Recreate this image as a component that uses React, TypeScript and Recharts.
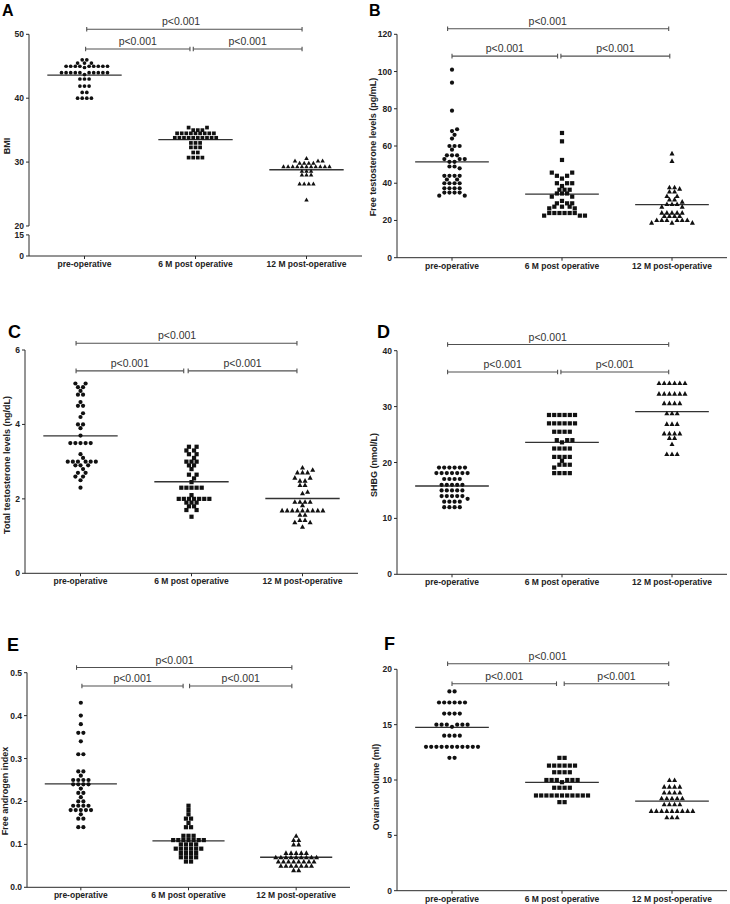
import React from 'react'
import { ScatterChart, Scatter, XAxis, YAxis, ReferenceLine, ReferenceDot } from 'recharts'

const GROUPS = ['pre-operative', '6 M post operative', '12 M post-operative']
const P_TEXT = 'p<0.001'

// A - BMI
const BMI_PRE = [46, 46, 45.5, 45.5, 45.5, 45, 45, 45, 45, 45, 45, 45, 45, 45, 44.8, 44, 44, 44, 44, 44, 44, 44, 44, 44, 44, 43.7, 43, 43, 43, 41.9, 41.9, 41.9, 40.9, 40.9, 40, 40, 40, 40]
const BMI_6M = [35.4, 35.4, 35, 35, 35, 34.5, 34.5, 34.5, 34.5, 34.5, 34.5, 34.5, 34.5, 34.5, 33.8, 33.8, 33.8, 33.8, 33.8, 33.8, 33.8, 33.8, 33.8, 33.8, 33, 33, 33, 32.3, 32.3, 32.3, 31.5, 31.5, 30.7, 30.7, 30.7, 30.7]
const BMI_12M = [30.6, 30.2, 30.2, 30.2, 29.85, 29.85, 29.85, 29.85, 29.3, 29.3, 29.3, 29.3, 29.3, 29.3, 29.3, 29.3, 29.3, 29.3, 29.3, 28.6, 28.6, 28.6, 28, 28, 28, 26.6, 26.6, 26.6, 26.6, 24.1]
const BMI_MEAN = [43.6, 33.5, 28.8]
const BMI_TICKS = [0, 15, 20, 30, 40, 50]

// B - free testosterone
const FT_PRE = [101, 94, 79, 69, 68, 66, 64, 60, 60, 60, 58, 55, 55, 55, 53, 53, 53, 51.5, 51.5, 49, 49, 48, 44, 44, 44, 44, 42, 42, 40, 40, 40, 40, 37.3, 37.3, 37.3, 37.3, 35, 35, 35, 35, 33.3, 33.3]
const FT_6M = [67, 62.5, 52.5, 45.7, 45.7, 44, 44, 42.5, 40, 40, 40, 38.5, 36.5, 36.5, 36.5, 34.5, 34.5, 34.5, 32.8, 32.8, 30.5, 29.2, 29.2, 29.2, 27.4, 27.4, 27.4, 26.5, 26.5, 24, 24, 24, 24, 24, 24, 22.6, 22.6, 22.6]
const FT_12M = [56, 52, 37.8, 37.8, 37.1, 35.5, 35.5, 33.1, 33.1, 31.3, 31.3, 30.1, 28.8, 28.8, 28.8, 27.4, 27.4, 24.2, 24.2, 24.2, 24.2, 24.2, 22.4, 22.4, 22.4, 22.4, 20.2, 20.2, 20.2, 20.2, 20.2, 20.2, 18.8, 18.8, 18.8]
const FT_MEAN = [51.5, 34.2, 28.5]
const FT_TICKS = [0, 20, 40, 60, 80, 100, 120]

// C - total testosterone
const TT_PRE = [5.1, 5.1, 5.0, 5.0, 4.9, 4.8, 4.8, 4.6, 4.5, 4.5, 4.3, 4.2, 4.0, 4.0, 3.9, 3.7, 3.5, 3.5, 3.5, 3.5, 3.5, 3.2, 3.1, 3.0, 3.0, 3.0, 3.0, 3.0, 3.0, 2.9, 2.9, 2.9, 2.8, 2.7, 2.7, 2.6, 2.6, 2.5, 2.3]
const TT_6M = [3.4, 3.4, 3.3, 3.3, 3.2, 3.2, 3.1, 3.0, 3.0, 3.0, 2.9, 2.9, 2.8, 2.65, 2.65, 2.55, 2.45, 2.3, 2.3, 2.3, 2.3, 2.3, 2.1, 2.0, 2.0, 2.0, 2.0, 2.0, 2.0, 2.0, 1.9, 1.9, 1.9, 1.8, 1.8, 1.7, 1.7, 1.52]
const TT_12M = [2.84, 2.78, 2.71, 2.71, 2.71, 2.57, 2.57, 2.49, 2.49, 2.37, 2.37, 2.19, 2.15, 1.92, 1.92, 1.92, 1.92, 1.83, 1.69, 1.69, 1.69, 1.69, 1.69, 1.69, 1.69, 1.69, 1.69, 1.57, 1.57, 1.43, 1.43, 1.37, 1.37, 1.25]
const TT_MEAN = [3.69, 2.46, 2.01]
const TT_TICKS = [0, 2, 4, 6]

// D - SHBG
const SHBG_PRE = [19.1, 19.1, 19.1, 19.1, 19.1, 19.1, 18.1, 18.1, 18.1, 18.1, 18.1, 18.1, 18.1, 17.05, 17.05, 17.05, 17.05, 16, 16, 16, 16, 16, 15, 15, 15, 15, 15, 14, 14, 14, 14, 14, 13.5, 13, 13, 13, 13, 12, 12, 12, 12]
const SHBG_6M = [28.5, 28.5, 28.5, 28.5, 28.5, 28.5, 27, 27, 27, 27, 27, 27, 25.5, 25.5, 25.5, 25.5, 24, 24, 24, 23.6, 22.5, 22.5, 22.5, 22.5, 21, 21, 21, 21, 20.3, 19.6, 19.6, 19.6, 19.1, 18.1, 18.1, 18.1, 18.1]
const SHBG_12M = [34.2, 34.2, 34.2, 34.2, 34.2, 34.2, 32.3, 32.3, 32.3, 32.3, 32.3, 32.3, 30.6, 30.6, 30.6, 30.6, 28.8, 28.8, 28.8, 26.9, 26.9, 26.9, 25.2, 25.2, 25.2, 25.2, 24.4, 24.4, 23.3, 21.5, 21.5, 21.5]
const SHBG_MEAN = [15.8, 23.6, 29.1]
const SHBG_TICKS = [0, 10, 20, 30, 40]

// E - free androgen index
const FAI_PRE = [0.43, 0.4, 0.38, 0.36, 0.36, 0.34, 0.31, 0.31, 0.27, 0.27, 0.26, 0.25, 0.25, 0.25, 0.25, 0.24, 0.24, 0.24, 0.24, 0.23, 0.22, 0.22, 0.21, 0.2, 0.2, 0.19, 0.19, 0.19, 0.19, 0.18, 0.18, 0.18, 0.18, 0.18, 0.17, 0.16, 0.16, 0.14, 0.14]
const FAI_6M = [0.19, 0.18, 0.17, 0.16, 0.16, 0.15, 0.14, 0.14, 0.12, 0.12, 0.12, 0.11, 0.11, 0.11, 0.11, 0.11, 0.11, 0.11, 0.1, 0.1, 0.1, 0.1, 0.09, 0.09, 0.09, 0.09, 0.09, 0.09, 0.08, 0.08, 0.08, 0.08, 0.07, 0.07, 0.07, 0.07, 0.06, 0.06]
const FAI_12M = [0.12, 0.11, 0.11, 0.1, 0.1, 0.08, 0.08, 0.08, 0.08, 0.08, 0.07, 0.07, 0.07, 0.07, 0.07, 0.07, 0.07, 0.07, 0.07, 0.06, 0.06, 0.06, 0.06, 0.06, 0.06, 0.06, 0.06, 0.05, 0.05, 0.05, 0.05, 0.05, 0.05, 0.05, 0.04, 0.04]
const FAI_MEAN = [0.241, 0.108, 0.07]
const FAI_TICKS = [0, 0.1, 0.2, 0.3, 0.4, 0.5]

// F - ovarian volume
const OV_PRE = [18, 18, 17, 17, 17, 17, 17, 17, 16, 16, 16, 16, 15, 15, 15, 15, 15, 15, 14.8, 14, 14, 14, 14, 13, 13, 13, 13, 13, 13, 13, 13, 13, 13, 13, 12, 12]
const OV_6M = [12, 12, 11.3, 11.3, 11.3, 11.3, 11.3, 11.3, 10.7, 10.7, 10.7, 10.7, 10, 10, 10, 10, 10, 10, 9.8, 9.3, 9.3, 9.3, 9.3, 8.6, 8.6, 8.6, 8.6, 8.6, 8.6, 8.6, 8.6, 8.6, 8.6, 8.6, 8, 8]
const OV_12M = [10, 10, 9.4, 9.4, 9.4, 9.4, 8.86, 8.86, 8.86, 8.86, 8.34, 8.34, 8.34, 8.34, 8.34, 7.8, 7.8, 7.8, 7.8, 7.2, 7.2, 7.2, 7.2, 7.2, 7.2, 7.2, 7.2, 7.2, 6.63, 6.63, 6.63]
const OV_MEAN = [14.76, 9.79, 8.1]
const OV_TICKS = [0, 5, 10, 15, 20]

const INK = '#111'
const AXIS = '#2a2a2a'
const BRACKET = '#505050'
const FONT = '"Liberation Sans", Arial, Helvetica, sans-serif'
const TICK = { fontSize: 8.5, fontWeight: 700, fill: '#222' }
const XH = 10
const YW = 24
const HALF_MEAN = 0.335
const TOP_LABEL_X = 1.87

// BMI axis is broken between 15 and 20
const LOW_SPAN = 3.3
const GAP = 1.4
const bmiScale = (v: number) => (v >= 20 ? LOW_SPAN + GAP + v - 20 : (v * LOW_SPAN) / 15)

// simple GraphPad-like dot placement: nearest free slot to the centre line
function swarm(vals: number[], pxY: number, centre: number, pitch: number, dmin: number) {
  const idx = vals.map((_, i) => i).sort((a, b) => Math.abs(vals[a] - centre) - Math.abs(vals[b] - centre) || vals[a] - vals[b])
  const placed: [number, number][] = []
  const out = vals.map(() => 0)
  const h = pitch / 2
  for (const i of idx) {
    const y = vals[i] * pxY
    const even = vals.filter((v) => v === vals[i]).length % 2 === 0
    for (let k = 0; k < 400; k++) {
      const dx = even
        ? (Math.floor(k / 2) + 1) * h * (k % 2 === 0 ? 1 : -1)
        : Math.ceil(k / 2) * h * (k % 2 === 1 ? 1 : -1)
      if (placed.every(([px, py]) => (px - dx) ** 2 + (py - y) ** 2 >= dmin * dmin)) {
        placed.push([dx, y])
        out[i] = dx
        break
      }
    }
  }
  return out
}

const dot = (r: number) => (p: any) => <circle cx={p.cx} cy={p.cy} r={r} fill={INK} />
const square = (r: number) => (p: any) => <rect x={p.cx - r} y={p.cy - r} width={2 * r} height={2 * r} fill={INK} />
const tri = (r: number) => (p: any) => (
  <path d={`M${p.cx},${p.cy - r * 1.25}L${p.cx + r * 1.2},${p.cy + r * 0.95}L${p.cx - r * 1.2},${p.cy + r * 0.95}Z`} fill={INK} />
)

type Spec = {
  letter: string
  letterAt: [number, number, number]
  yLabel: string
  yLabelAt: [number, number]
  box: [number, number, number, number]
  plot: [number, number, number, number]
  groups: number[][]
  means: number[]
  ticks: number[]
  bracketY: [number, number]
  spans: [number, number][]
  pitch: number
  r: number
  fmt?: (v: number) => string
  tf?: (v: number) => number
  broken?: boolean
}

const PANELS: Spec[] = [
  {
    letter: 'A', letterAt: [3, 5, 16], yLabel: 'BMI', yLabelAt: [7, 146],
    box: [0, 0, 365, 300], plot: [29, 34.3, 362, 256],
    groups: [BMI_PRE, BMI_6M, BMI_12M], means: BMI_MEAN, ticks: BMI_TICKS,
    bracketY: [50.8, 47.7], spans: [[1.02, 2.96], [1.01, 1.95], [1.98, 2.96]],
    pitch: 4.6, r: 1.85, tf: bmiScale, broken: true,
  },
  {
    letter: 'B', letterAt: [370, 5, 16], yLabel: 'Free testosterone levels (pg/mL)', yLabelAt: [372.5, 147],
    box: [365, 0, 365, 300], plot: [397, 34.3, 727, 257.7],
    groups: [FT_PRE, FT_6M, FT_12M], means: FT_MEAN, ticks: FT_TICKS,
    bracketY: [123, 108.3], spans: [[0.96, 2.97], [1.0, 1.96], [1.99, 2.98]],
    pitch: 5.1, r: 2.1,
  },
  {
    letter: 'C', letterAt: [9, 325, 18], yLabel: 'Total testosterone levels (ng/dL)', yLabelAt: [7, 465],
    box: [0, 300, 365, 304], plot: [25, 350, 358, 573.3],
    groups: [TT_PRE, TT_6M, TT_12M], means: TT_MEAN, ticks: TT_TICKS,
    bracketY: [6.18, 5.44], spans: [[0.96, 2.95], [0.96, 1.93], [1.97, 2.95]],
    pitch: 5.1, r: 2.1,
  },
  {
    letter: 'D', letterAt: [378, 325, 18], yLabel: 'SHBG (nmol/L)', yLabelAt: [374, 465],
    box: [365, 300, 365, 304], plot: [397, 350.7, 727, 574.3],
    groups: [SHBG_PRE, SHBG_6M, SHBG_12M], means: SHBG_MEAN, ticks: SHBG_TICKS,
    bracketY: [41.1, 36.2], spans: [[0.96, 2.97], [0.96, 1.96], [1.99, 2.97]],
    pitch: 5.2, r: 2.1,
  },
  {
    letter: 'E', letterAt: [8, 638, 18], yLabel: 'Free androgen index', yLabelAt: [5, 791],
    box: [0, 604, 365, 300], plot: [27, 672.7, 350, 887.3],
    groups: [FAI_PRE, FAI_6M, FAI_12M], means: FAI_MEAN, ticks: FAI_TICKS,
    bracketY: [0.512, 0.469], spans: [[0.96, 2.96], [1.01, 1.95], [2.01, 2.96]],
    pitch: 5.1, r: 2.1, fmt: (v) => v.toFixed(1),
  },
  {
    letter: 'F', letterAt: [385, 637, 18], yLabel: 'Ovarian volume (ml)', yLabelAt: [375.5, 787],
    box: [365, 604, 365, 300], plot: [397, 669.3, 727, 890.7],
    groups: [OV_PRE, OV_6M, OV_12M], means: OV_MEAN, ticks: OV_TICKS,
    bracketY: [20.5, 18.7], spans: [[0.96, 2.97], [1.0, 1.95], [2.02, 2.97]],
    pitch: 5.2, r: 2.1,
  },
]

function Panel({ s }: { s: Spec }) {
  const [bl, bt, bw, bh] = s.box
  const [pl, pt, pr, pb] = s.plot
  const tf = s.tf ?? ((v: number) => v)
  const yMax = tf(s.ticks[s.ticks.length - 1])
  const pxY = (pb - pt) / yMax
  const pxX = (pr - pl) / 3
  const tTicks = s.ticks.map(tf)
  const fmt = (t: number) => {
    let best = 0
    tTicks.forEach((v, i) => { if (Math.abs(v - t) < Math.abs(tTicks[best] - t)) best = i })
    const raw = s.ticks[best]
    return s.fmt ? s.fmt(raw) : String(raw)
  }
  const shapes = [dot(s.r), square(s.r), tri(s.r)]
  const series = s.groups.map((vals, g) => {
    const tv = vals.map(tf)
    const dx = swarm(tv, pxY, tf(s.means[g]), s.pitch, s.pitch * 0.82)
    return tv.map((y, i) => ({ x: g + 1 + dx[i] / pxX, y }))
  })
  const cap = 2.3 / pxY
  const bY = [tf(s.bracketY[0]), tf(s.bracketY[1]), tf(s.bracketY[1])]
  const margin = { top: pt - bt, right: bl + bw - pr, bottom: bt + bh - pb - XH, left: pl - bl - YW }

  return (
    <>
      <div style={{ position: 'absolute', left: bl, top: bt }}>
        <ScatterChart width={bw} height={bh} margin={margin}>
          <XAxis type="number" dataKey="x" domain={[0.5, 3.5]} ticks={[1, 2, 3]} interval={0} allowDataOverflow
            tickFormatter={(v: number) => GROUPS[v - 1]} height={XH} tickSize={3} tickMargin={2} stroke={AXIS} tick={TICK} />
          <YAxis type="number" dataKey="y" domain={[0, yMax]} ticks={tTicks} interval={0} allowDataOverflow
            tickFormatter={fmt} width={YW} tickSize={3} tickMargin={2} stroke={AXIS} tick={TICK} axisLine={!s.broken} />
          {s.broken && (
            <ReferenceLine ifOverflow="visible" stroke={AXIS} segment={[{ x: 0.5, y: 0 }, { x: 0.5, y: tf(15) }]} />
          )}
          {s.broken && (
            <ReferenceLine ifOverflow="visible" stroke={AXIS} segment={[{ x: 0.5, y: tf(20) }, { x: 0.5, y: yMax }]} />
          )}
          {series.map((d, g) => (
            <Scatter key={g} data={d} shape={shapes[g]} isAnimationActive={false} />
          ))}
          {s.means.map((m, g) => (
            <ReferenceLine key={'m' + g} ifOverflow="visible" stroke="#333" strokeWidth={1.3}
              segment={[{ x: g + 1 - HALF_MEAN, y: tf(m) }, { x: g + 1 + HALF_MEAN, y: tf(m) }]} />
          ))}
          {s.spans.map(([a, b], i) => (
            <React.Fragment key={'b' + i}>
              <ReferenceLine ifOverflow="visible" stroke={BRACKET} strokeWidth={1.1} segment={[{ x: a, y: bY[i] }, { x: b, y: bY[i] }]} />
              <ReferenceLine ifOverflow="visible" stroke={BRACKET} strokeWidth={1.1} segment={[{ x: a, y: bY[i] - cap }, { x: a, y: bY[i] + cap }]} />
              <ReferenceLine ifOverflow="visible" stroke={BRACKET} strokeWidth={1.1} segment={[{ x: b, y: bY[i] - cap }, { x: b, y: bY[i] + cap }]} />
              <ReferenceDot ifOverflow="visible" x={i === 0 ? TOP_LABEL_X : (a + b) / 2} y={bY[i]} r={0} fill="none" stroke="none"
                label={{ value: P_TEXT, position: 'top', offset: 4, fontSize: 10.5, fill: '#333' }} />
            </React.Fragment>
          ))}
        </ScatterChart>
      </div>
      <div style={{ position: 'absolute', left: s.letterAt[0] - 1, top: s.letterAt[1] - 0.13 * s.letterAt[2], fontSize: s.letterAt[2], fontWeight: 700, lineHeight: 1, color: '#000' }}>
        {s.letter}
      </div>
      <div style={{ position: 'absolute', left: s.yLabelAt[0], top: s.yLabelAt[1], transform: 'translate(-50%, -50%) rotate(-90deg)', whiteSpace: 'nowrap', fontSize: 9, fontWeight: 700, lineHeight: 1, color: '#222' }}>
        {s.yLabel}
      </div>
    </>
  )
}

export default function App() {
  return (
    <div style={{ position: 'absolute', left: 0, top: 0, width: 730, height: 904, overflow: 'hidden', background: '#fff', fontFamily: FONT }}>
      {PANELS.map((s) => (
        <Panel key={s.letter} s={s} />
      ))}
    </div>
  )
}
